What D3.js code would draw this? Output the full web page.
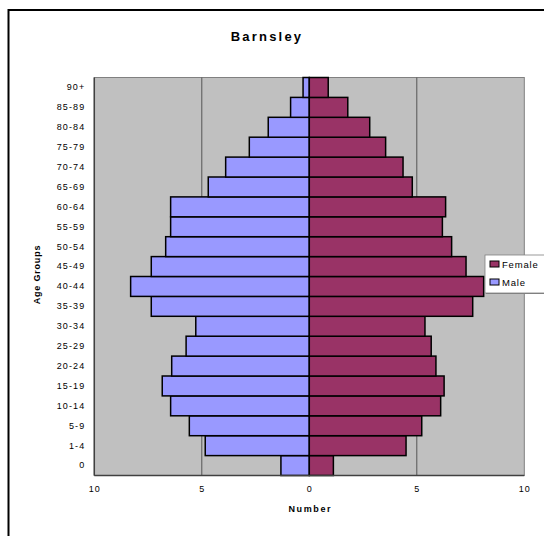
<!DOCTYPE html>
<html><head><meta charset="utf-8">
<script src="https://cdn.jsdelivr.net/npm/d3@7"></script>
<style>body{margin:0;background:#fff;} svg{display:block;font-family:"Liberation Sans",Arial,sans-serif;}</style>
</head><body>
<svg id="c" width="544" height="536"></svg>
<script>
const ageGroups = ["0","1-4","5-9","10-14","15-19","20-24","25-29","30-34","35-39","40-44","45-49","50-54","55-59","60-64","65-69","70-74","75-79","80-84","85-89","90+"];
const male   = [1.32,4.84,5.58,6.45,6.84,6.40,5.73,5.28,7.35,8.31,7.35,6.68,6.45,6.45,4.70,3.89,2.79,1.91,0.87,0.29];
const female = [1.12,4.50,5.23,6.11,6.27,5.89,5.67,5.38,7.60,8.11,7.29,6.62,6.19,6.34,4.79,4.36,3.55,2.81,1.79,0.88];
const xTicks = [-10,-5,0,5,10];
const seriesNames = ["Female","Male"];
const colors = {Female:"#993366", Male:"#9999FF"};

const svg = d3.select("#c");
// outer frame
svg.append("rect").attr("x",8.5).attr("y",10).attr("width",560).attr("height",560)
  .attr("fill","#fff").attr("stroke","#000").attr("stroke-width",2);

const L=94.3, R=524.3, T=77.5, B=475.5;
const x = d3.scaleLinear().domain([-10,10]).range([L,R]);
const y = d3.scaleBand().domain(ageGroups.slice().reverse()).range([T,B]).padding(0);

svg.append("rect").attr("x",L).attr("y",T).attr("width",R-L).attr("height",B-T)
  .attr("fill","#C0C0C0").attr("stroke","#808080").attr("stroke-width",1);

// gridlines
svg.append("g").selectAll("line").data(xTicks.filter(d=>d!==-10&&d!==10)).join("line")
  .attr("x1",d=>x(d)).attr("x2",d=>x(d)).attr("y1",T).attr("y2",B)
  .attr("stroke","#555").attr("stroke-width",1);

// bars
const g = svg.append("g");
g.selectAll("rect.m").data(ageGroups).join("rect").attr("class","m")
  .attr("x",(d,i)=>x(-male[i])).attr("width",(d,i)=>x(0)-x(-male[i]))
  .attr("y",d=>y(d)).attr("height",y.bandwidth())
  .attr("fill",colors.Male).attr("stroke","#000").attr("stroke-width",1.5);
g.selectAll("rect.f").data(ageGroups).join("rect").attr("class","f")
  .attr("x",x(0)).attr("width",(d,i)=>x(female[i])-x(0))
  .attr("y",d=>y(d)).attr("height",y.bandwidth())
  .attr("fill",colors.Female).attr("stroke","#000").attr("stroke-width",1.5);

// axes lines
svg.append("line").attr("x1",L).attr("x2",R).attr("y1",B).attr("y2",B).attr("stroke","#404040").attr("stroke-width",1.5);
svg.append("line").attr("x1",L).attr("x2",L).attr("y1",T).attr("y2",B).attr("stroke","#404040").attr("stroke-width",1.5);

// x axis
const xAxis = d3.axisBottom(x).tickValues(xTicks).tickFormat(d=>Math.abs(d)).tickSize(0).tickPadding(10);
const xg = svg.append("g").attr("transform",`translate(0,${B})`).call(xAxis);
xg.select(".domain").remove();
xg.selectAll("text").attr("font-size",9).attr("fill","#000").attr("font-family","Liberation Sans, Arial").attr("letter-spacing","1px");

// y axis
const yAxis = d3.axisLeft(y).tickSize(0).tickPadding(9);
const yg = svg.append("g").attr("transform",`translate(${L},0)`).call(yAxis);
yg.select(".domain").remove();
yg.selectAll("text").attr("font-size",9).attr("fill","#000").attr("font-family","Liberation Sans, Arial").attr("letter-spacing","1.1px");

// titles
svg.append("text").attr("x",267).attr("y",41).attr("text-anchor","middle")
  .attr("font-size",13).attr("font-weight","bold").attr("letter-spacing","2.2px").text("Barnsley");
svg.append("text").attr("x",x(0)+1).attr("y",512).attr("text-anchor","middle")
  .attr("font-size",9).attr("font-weight","bold").attr("letter-spacing","1.6px").text("Number");
svg.append("text").attr("transform",`translate(40,${(T+B)/2 - 2}) rotate(-90)`).attr("text-anchor","middle")
  .attr("font-size",9).attr("font-weight","bold").attr("letter-spacing","0.8px").text("Age Groups");

// legend
const lg = svg.append("g").attr("transform","translate(485,255)");
lg.append("rect").attr("x",1).attr("y",1).attr("width",70).attr("height",38).attr("fill","#808080");
lg.append("rect").attr("x",0).attr("y",0).attr("width",70).attr("height",38).attr("fill","#fff").attr("stroke","#808080").attr("stroke-width",0.8);
seriesNames.forEach((s,i)=>{
  lg.append("rect").attr("x",5).attr("y",6+i*18).attr("width",9).attr("height",6)
    .attr("fill",colors[s]).attr("stroke","#000").attr("stroke-width",1);
  lg.append("text").attr("x",17).attr("y",13+i*18).attr("font-size",9.5).attr("letter-spacing","0.8px").text(s);
});
</script>
</body></html>
